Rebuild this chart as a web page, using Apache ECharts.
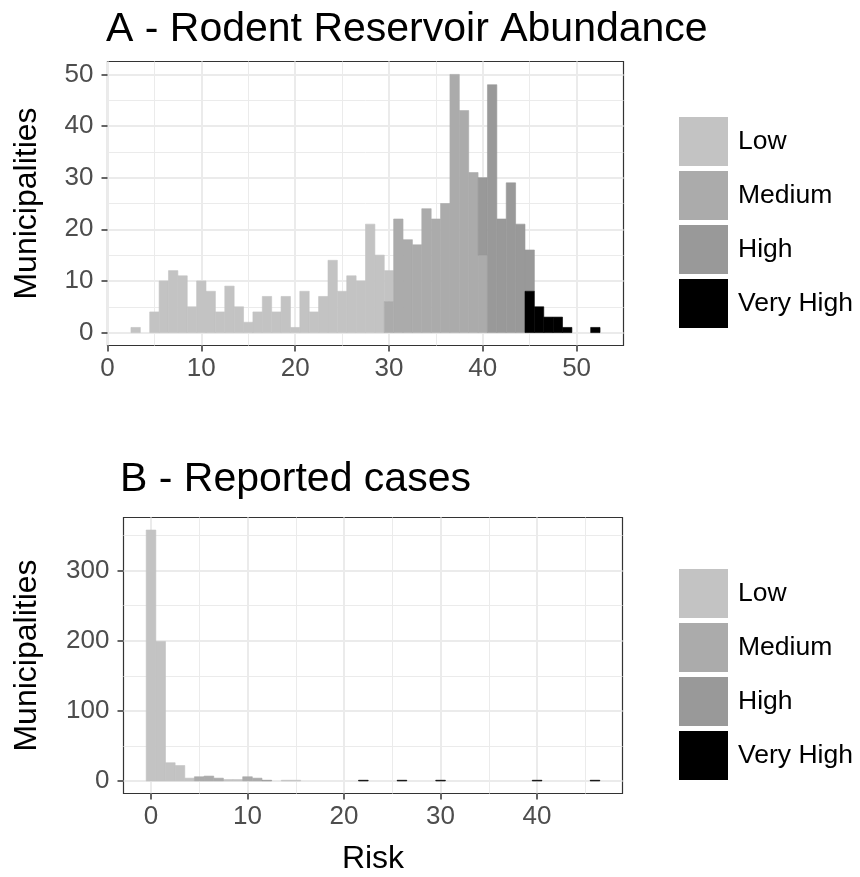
<!DOCTYPE html>
<html><head><meta charset="utf-8">
<script src="https://cdn.jsdelivr.net/npm/echarts@6/dist/echarts.min.js"></script>
<style>html,body{margin:0;padding:0;background:#fff}#c{width:860px;height:877px}</style>
</head><body><div id="c"></div>
<script>
// ---- data ----
const riskClasses = ['Low', 'Medium', 'High', 'Very High'];
const classColors = ['#c3c3c3', '#ababab', '#999999', '#000000'];
// stacking order inside a bin, bottom -> top
const stackOrder = ['Very High', 'Medium', 'Low', 'High'];

// Panel A: bin centres (bin width 1)
const binsA = [3,4,5,6,7,8,9,10,11,12,13,14,15,16,17,18,19,20,21,22,23,24,25,26,27,28,29,30,31,32,33,34,35,36,37,38,39,40,41,42,43,44,45,46,47,48,49,50,51,52];
const lowA = [1,0,4,10,12,11,5,10,8,4,9,5,2,4,7,4,7,1,8,4,7,14,8,11,10,21,15,6,0,0,0,0,0,0,0,0,0,0,0,0,0,0,0,0,0,0,0,0,0,0];
const mediumA = [0,0,0,0,0,0,0,0,0,0,0,0,0,0,0,0,0,0,0,0,0,0,0,0,0,0,0,6,22,18,17,24,22,25,50,43,31,15,0,0,0,0,0,0,0,0,0,0,0,0];
const highA = [0,0,0,0,0,0,0,0,0,0,0,0,0,0,0,0,0,0,0,0,0,0,0,0,0,0,0,0,0,0,0,0,0,0,0,0,0,15,48,22,29,21,8,0,0,0,0,0,0,0];
const veryHighA = [0,0,0,0,0,0,0,0,0,0,0,0,0,0,0,0,0,0,0,0,0,0,0,0,0,0,0,0,0,0,0,0,0,0,0,0,0,0,0,0,0,0,8,5,3,3,1,0,0,1];

// Panel B: non-empty bin centres (bin width 1)
const binsB = [0,1,2,3,4,5,6,7,8,9,10,11,12,14,15,22,26,30,40,46];
const lowB = [358,199,26,22,4,0,0,0,2,2,0,0,0,1,1,0,0,0,0,0];
const mediumB = [0,0,0,0,0,6,7,4,0,0,6,4,0,0,0,0,0,0,0,0];
const highB = [0,0,0,0,0,0,0,0,0,0,0,0,1,0,0,0,0,0,0,0];
const veryHighB = [0,0,0,0,0,0,0,0,0,0,0,0,0,0,0,1,1,1,1,1];

// axis ticks
const xMajorA = [0,10,20,30,40,50], xMinorA = [5,15,25,35,45];
const yMajorA = [0,10,20,30,40,50], yMinorA = [5,15,25,35,45];
const xMajorB = [0,10,20,30,40], xMinorB = [5,15,25,35,45];
const yMajorB = [0,100,200,300], yMinorB = [50,150,250,350];

// ---- build ----
const FONT = 'Liberation Sans, Arial, sans-serif';
function buildStack(bins, byClass) {
  const out = {};
  riskClasses.forEach(c => out[c] = []);
  bins.forEach((b, i) => {
    let base = 0;
    stackOrder.forEach(c => {
      const v = byClass[c][i];
      if (v > 0) { out[c].push([b, base, base + v]); base += v; }
    });
  });
  return out;
}
const stackA = buildStack(binsA, {'Low': lowA, 'Medium': mediumA, 'High': highA, 'Very High': veryHighA});
const stackB = buildStack(binsB, {'Low': lowB, 'Medium': mediumB, 'High': highB, 'Very High': veryHighB});

function renderBar(params, api) {
  const x = api.value(0), y0 = api.value(1), y1 = api.value(2);
  const p0 = api.coord([x - 0.5, y0]);
  const p1 = api.coord([x + 0.5, y1]);
  const col = api.visual('color');
  return {type: 'rect', shape: {x: p0[0], y: p1[1], width: p1[0] - p0[0], height: p0[1] - p1[1]},
          style: {fill: col, stroke: col, lineWidth: 0.6}};
}

function majorAxis(kind, grid, min, max, ticks, extra) {
  return Object.assign({
    type: 'value', gridIndex: grid, min: min, max: max,
    position: kind === 'x' ? 'bottom' : 'left',
    axisLine: {show: false, onZero: false},
    axisTick: {show: true, customValues: ticks, length: 6, lineStyle: {color: '#333333', width: 1.5}},
    axisLabel: {customValues: ticks, color: '#4d4d4d', fontSize: 26, fontFamily: FONT, margin: kind === 'x' ? 10 : 14},
    splitLine: {show: true, lineStyle: {color: '#ebebeb', width: 2}},
    nameTextStyle: {color: '#000', fontSize: 32, fontFamily: FONT}
  }, extra || {});
}
function minorAxis(kind, grid, min, max, ticks) {
  return {
    type: 'value', gridIndex: grid, min: min, max: max,
    position: kind === 'x' ? 'bottom' : 'left',
    axisLine: {show: false, onZero: false},
    axisTick: {show: false, customValues: ticks},
    axisLabel: {show: false, customValues: ticks},
    splitLine: {show: true, lineStyle: {color: '#ebebeb', width: 1}}
  };
}

const series = [];
riskClasses.forEach((c, k) => {
  series.push({name: c, type: 'custom', xAxisIndex: 0, yAxisIndex: 0, renderItem: renderBar,
               itemStyle: {color: classColors[k]}, data: stackA[c], encode: {x: 0, y: [1, 2]}});
});
riskClasses.forEach((c, k) => {
  series.push({name: c, type: 'custom', xAxisIndex: 2, yAxisIndex: 2, renderItem: renderBar,
               itemStyle: {color: classColors[k]}, data: stackB[c], encode: {x: 0, y: [1, 2]}});
});

const legendCommon = {
  orient: 'vertical', left: 679, padding: 0, itemWidth: 49, itemHeight: 49, itemGap: 5,
  icon: 'rect', selectedMode: false, data: riskClasses,
  textStyle: {color: '#000', fontSize: 26.5, fontFamily: FONT, padding: [0, 0, 0, 5]}
};

const option = {
  animation: false,
  backgroundColor: '#fff',
  title: [
    {text: 'A - Rodent Reservoir Abundance', left: 106, top: 9, padding: 0,
     textStyle: {color: '#000', fontSize: 41, fontWeight: 'normal', fontFamily: FONT}},
    {text: 'B - Reported cases', left: 120, top: 459, padding: 0,
     textStyle: {color: '#000', fontSize: 41, fontWeight: 'normal', fontFamily: FONT}}
  ],
  legend: [
    Object.assign({}, legendCommon, {top: 117}),
    Object.assign({}, legendCommon, {top: 569})
  ],
  grid: [
    {left: 107.5, top: 61.5, width: 516, height: 284, show: true, borderColor: '#333333', borderWidth: 1.2, backgroundColor: '#fff'},
    {left: 123.5, top: 517.5, width: 499, height: 276, show: true, borderColor: '#333333', borderWidth: 1.2, backgroundColor: '#fff'}
  ],
  xAxis: [
    majorAxis('x', 0, 0, 55, xMajorA),
    minorAxis('x', 0, 0, 55, xMinorA),
    majorAxis('x', 1, -2.85, 48.85, xMajorB, {name: 'Risk', nameLocation: 'middle', nameGap: 50}),
    minorAxis('x', 1, -2.85, 48.85, xMinorB)
  ],
  yAxis: [
    majorAxis('y', 0, -2.5, 52.5, yMajorA, {name: 'Municipalities', nameLocation: 'middle', nameGap: 64}),
    minorAxis('y', 0, -2.5, 52.5, yMinorA),
    majorAxis('y', 1, -17.9, 375.9, yMajorB, {name: 'Municipalities', nameLocation: 'middle', nameGap: 80}),
    minorAxis('y', 1, -17.9, 375.9, yMinorB)
  ],
  series: series
};

const chart = echarts.init(document.getElementById('c'), null, {renderer: 'canvas'});
chart.setOption(option);
</script>
</body></html>
